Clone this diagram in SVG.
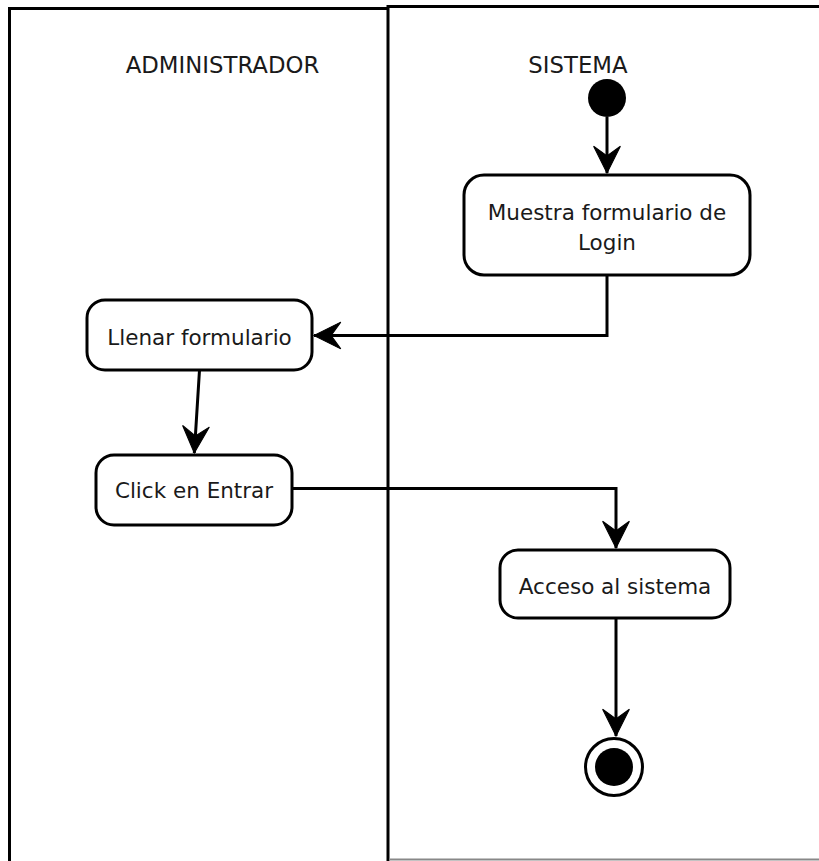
<svg xmlns="http://www.w3.org/2000/svg" width="819" height="861" viewBox="0 0 819 861">
  <style>
    .lane { fill: none; stroke: #000; stroke-width: 3; }
    .lane-label { font-family: "DejaVu Sans", Verdana, sans-serif; font-size: 22.8px; fill: #1a1a1a; text-anchor: middle; }
    .action rect { fill: #fff; stroke: #000; stroke-width: 3; }
    .action text { font-family: "DejaVu Sans", Verdana, sans-serif; font-size: 21.5px; fill: #1a1a1a; text-anchor: middle; }
    .flow { fill: none; stroke: #000; stroke-width: 3; marker-end: url(#head); }
  </style>
  <defs>
    <marker id="head" markerUnits="userSpaceOnUse" markerWidth="30" markerHeight="30" viewBox="-26 -14 28 28" refX="0" refY="0" orient="auto">
      <path d="M0,0 L-25,-12.5 L-16,0 L-25,12.5 Z" fill="#000" stroke="#000" stroke-width="1" stroke-linejoin="miter"/>
    </marker>
  </defs>
  <rect width="819" height="861" fill="#fff"/>

  <!-- swimlanes -->
  <g id="lane-administrador">
    <path class="lane" d="M9.5,870 V8.5 H388"/>
    <text class="lane-label" x="222.5" y="73">ADMINISTRADOR</text>
  </g>
  <g id="lane-sistema">
    <path class="lane" d="M388,870 V6.5 H830"/>
    <line x1="389" y1="859.5" x2="830" y2="859.5" stroke="#888" stroke-width="2"/>
    <text class="lane-label" x="578" y="73">SISTEMA</text>
  </g>

  <!-- connectors -->
  <g id="connectors">
    <path class="flow" d="M607,117 V173"/>
    <path class="flow" d="M607,275 V335.5 H314"/>
    <path class="flow" d="M199.5,370 L194.3,453"/>
    <path class="flow" d="M292,488.5 H616 V548"/>
    <path class="flow" d="M616,618 V736"/>
  </g>

  <!-- start -->
  <g id="start">
    <circle cx="607" cy="98" r="19" fill="#000"/>
  </g>

  <g id="muestra-login" class="action">
    <rect x="464" y="175" width="286" height="100" rx="20"/>
    <text x="607" y="220">Muestra formulario de</text>
    <text x="607" y="250">Login</text>
  </g>

  <g id="llenar-formulario" class="action">
    <rect x="87" y="300" width="225" height="70" rx="18"/>
    <text x="199.5" y="345">Llenar formulario</text>
  </g>

  <g id="click-entrar" class="action">
    <rect x="96" y="455" width="196" height="70" rx="18"/>
    <text x="194" y="498">Click en Entrar</text>
  </g>

  <g id="acceso-sistema" class="action">
    <rect x="500" y="550" width="230" height="68" rx="18"/>
    <text x="615" y="594">Acceso al sistema</text>
  </g>

  <!-- end -->
  <g id="end">
    <circle cx="614" cy="767" r="28.5" fill="#fff" stroke="#000" stroke-width="3"/>
    <circle cx="614" cy="767" r="19" fill="#000"/>
  </g>
</svg>
